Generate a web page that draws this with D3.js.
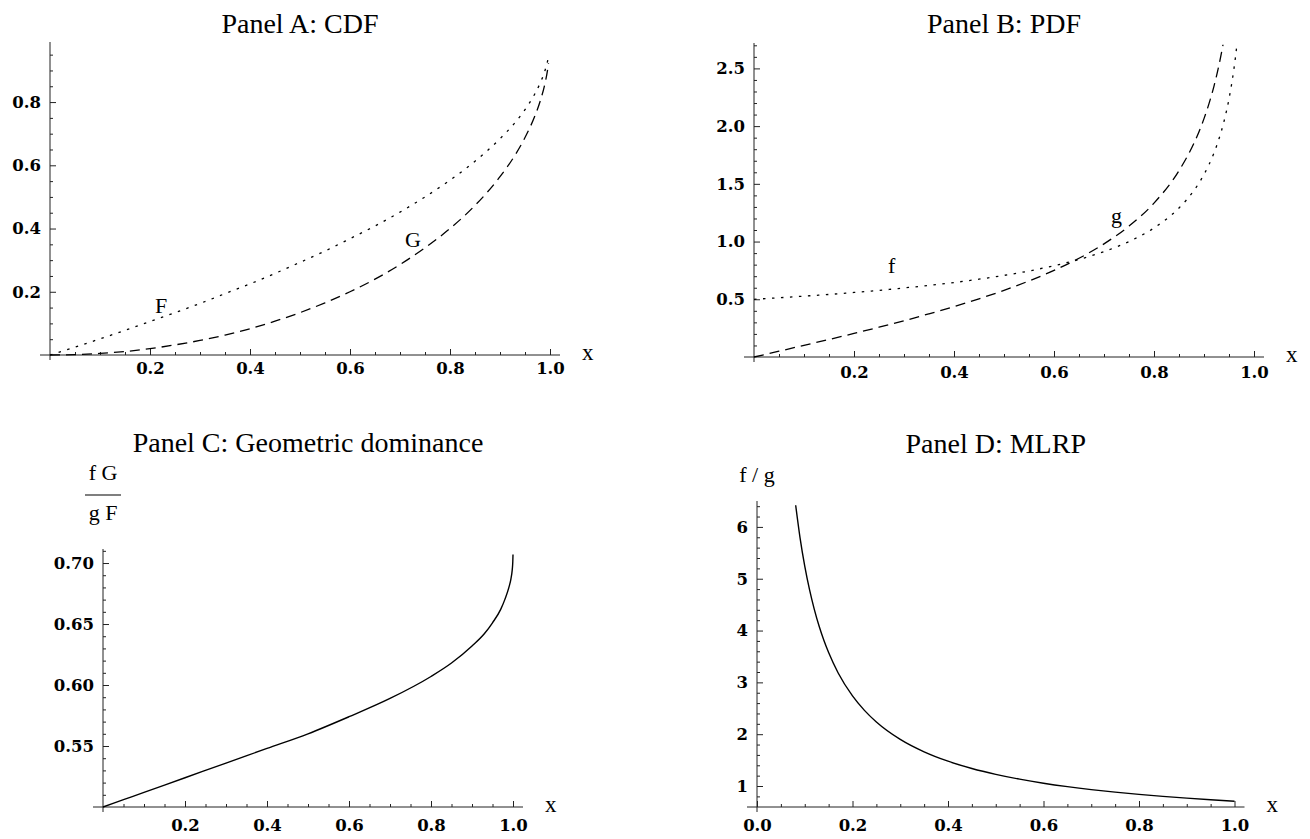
<!DOCTYPE html>
<html>
<head>
<meta charset="utf-8">
<script src="https://cdn.jsdelivr.net/npm/d3@7"></script>
<style>
  body { margin: 0; background: #fff; }
  .ttl, .lbl { font-family: "Liberation Serif", serif; fill: #000; }
</style>
</head>
<body>
<div id="chart"></div>
<script>
// values
var xCdf  = [0, 0.05, 0.1, 0.15, 0.2, 0.25, 0.3, 0.35, 0.4, 0.45, 0.5, 0.55, 0.6, 0.65, 0.7, 0.75, 0.8, 0.85, 0.9, 0.93, 0.95, 0.97, 0.98, 0.99, 0.995, 0.997];
var cdfF  = [0, 0.025, 0.051, 0.078, 0.106, 0.134, 0.163, 0.194, 0.225, 0.258, 0.293, 0.329, 0.368, 0.408, 0.452, 0.5, 0.553, 0.613, 0.684, 0.735, 0.776, 0.827, 0.859, 0.9, 0.929, 0.945];
var cdfG  = [0, 0.001, 0.005, 0.011, 0.020, 0.032, 0.046, 0.063, 0.083, 0.107, 0.134, 0.165, 0.2, 0.240, 0.286, 0.339, 0.4, 0.473, 0.564, 0.632, 0.688, 0.757, 0.801, 0.859, 0.9, 0.923];

var xPdfF = [0, 0.05, 0.1, 0.15, 0.2, 0.25, 0.3, 0.35, 0.4, 0.45, 0.5, 0.55, 0.6, 0.65, 0.7, 0.75, 0.8, 0.85, 0.88, 0.9, 0.92, 0.93, 0.94, 0.95, 0.96, 0.963, 0.966];
var pdfF  = [0.5, 0.513, 0.527, 0.542, 0.559, 0.577, 0.598, 0.620, 0.645, 0.674, 0.707, 0.745, 0.791, 0.845, 0.913, 1.0, 1.118, 1.291, 1.443, 1.581, 1.768, 1.890, 2.041, 2.236, 2.5, 2.599, 2.712];
var xPdfG = [0, 0.05, 0.1, 0.15, 0.2, 0.25, 0.3, 0.35, 0.4, 0.45, 0.5, 0.55, 0.6, 0.65, 0.7, 0.75, 0.8, 0.85, 0.88, 0.89, 0.9, 0.91, 0.92, 0.93, 0.935, 0.938];
var pdfG  = [0, 0.050, 0.101, 0.152, 0.204, 0.258, 0.314, 0.374, 0.436, 0.504, 0.577, 0.659, 0.75, 0.855, 0.980, 1.134, 1.333, 1.614, 1.853, 1.952, 2.065, 2.195, 2.347, 2.530, 2.636, 2.706];

var xGeo  = [0, 0.05, 0.1, 0.2, 0.3, 0.4, 0.5, 0.6, 0.7, 0.8, 0.85, 0.9, 0.93, 0.95, 0.97, 0.98, 0.99, 0.995, 0.998, 0.999, 0.9995, 1];
var geo   = [0.5, 0.506, 0.512, 0.524, 0.536, 0.548, 0.560, 0.574, 0.589, 0.607, 0.618, 0.632, 0.642, 0.651, 0.662, 0.670, 0.680, 0.687, 0.694, 0.698, 0.701, 0.707];

var xMlrp = [0.081, 0.09, 0.1, 0.11, 0.12, 0.13, 0.14, 0.15, 0.17, 0.2, 0.225, 0.25, 0.3, 0.35, 0.4, 0.45, 0.5, 0.55, 0.6, 0.65, 0.7, 0.75, 0.8, 0.85, 0.9, 0.95, 1];
var mlrp  = [6.418, 5.800, 5.244, 4.789, 4.410, 4.088, 3.813, 3.575, 3.181, 2.739, 2.460, 2.236, 1.900, 1.660, 1.479, 1.338, 1.225, 1.132, 1.054, 0.988, 0.931, 0.882, 0.839, 0.800, 0.766, 0.735, 0.707];

// tick labels
var xTicks   = [0.2, 0.4, 0.6, 0.8, 1.0];
var xTicksD  = [0, 0.2, 0.4, 0.6, 0.8, 1.0];
var yTicksA  = [0.2, 0.4, 0.6, 0.8];
var yTicksB  = [0.5, 1.0, 1.5, 2.0, 2.5];
var yTicksC  = [0.55, 0.60, 0.65, 0.70];
var yTicksD  = [1, 2, 3, 4, 5, 6];

var titles = ["Panel A: CDF", "Panel B: PDF", "Panel C: Geometric dominance", "Panel D: MLRP"];

var svg = d3.select("#chart").append("svg")
    .attr("width", 1310)
    .attr("height", 839);

function minors(a, b, step, skip) {
    return d3.range(Math.round((b - a) / step) + 1)
        .map(function(i) { return +(a + i * step).toFixed(4); })
        .filter(function(v) { return skip.indexOf(v) < 0; });
}

var line = d3.line().curve(d3.curveMonotoneX);

function tidy(a) {
    a.select(".domain").remove();
    a.attr("font-family", null).attr("font-size", null);
    a.selectAll("text")
        .style("font-family", "'DejaVu Serif', serif")
        .style("font-size", "16.5px")
        .style("font-weight", "bold")
        .attr("fill", "#000");
}

function panel(p) {
    var x = d3.scaleLinear().domain([0, 1]).range([p.left, p.right]);
    var y = d3.scaleLinear().domain(p.yDom).range([p.bottom, p.top]);
    var g = svg.append("g").attr("color", "#222");

    // x axis ticks (inward)
    g.append("g").attr("transform", "translate(0," + p.bottom + ")")
        .call(d3.axisBottom(x).tickValues(p.xMinor).tickSize(-3).tickFormat(""))
        .call(tidy);
    g.append("g").attr("transform", "translate(0," + p.bottom + ")")
        .call(d3.axisBottom(x).tickValues(p.xTicks).tickSize(-6).tickPadding(p.xPad).tickFormat(d3.format(".1f")))
        .call(tidy);

    // y axis ticks (inward)
    g.append("g").attr("transform", "translate(" + p.left + ",0)")
        .call(d3.axisLeft(y).tickValues(p.yMinor).tickSize(-3).tickFormat(""))
        .call(tidy);
    g.append("g").attr("transform", "translate(" + p.left + ",0)")
        .call(d3.axisLeft(y).tickValues(p.yTicks).tickSize(-6).tickPadding(9).tickFormat(d3.format(p.yFmt)))
        .call(tidy);

    // axis lines
    g.append("line").attr("x1", p.left - 10).attr("x2", p.right + 10)
        .attr("y1", p.bottom).attr("y2", p.bottom)
        .attr("stroke", "#222").attr("stroke-width", 1);
    g.append("line").attr("x1", p.left).attr("x2", p.left)
        .attr("y1", p.top).attr("y2", p.bottom + 5)
        .attr("stroke", "#222").attr("stroke-width", 1);

    svg.append("text").attr("class", "lbl")
        .attr("x", p.right + 32).attr("y", p.bottom + 5)
        .attr("font-size", 23)
        .text("x");

    p.series.forEach(function(s) {
        var pts = d3.zip(s.x, s.y).map(function(d) { return [x(d[0]), y(d[1])]; });
        svg.append("path")
            .attr("d", line(pts))
            .attr("fill", "none")
            .attr("stroke", "#000")
            .attr("stroke-width", s.dash ? 1.3 : 1.4)
            .attr("stroke-dasharray", s.dash || null);
    });

    (p.labels || []).forEach(function(l) {
        svg.append("text").attr("class", "lbl")
            .attr("x", x(l.x)).attr("y", y(l.y))
            .attr("font-size", 22)
            .text(l.t);
    });

    svg.append("text").attr("class", "ttl")
        .attr("x", (p.left + p.right) / 2).attr("y", p.titleY)
        .attr("text-anchor", "middle")
        .attr("font-size", 28)
        .text(p.title);
    return { x: x, y: y };
}

var dotted = "2.5,6.5", dashed = "10,6";

panel({
    title: titles[0], titleY: 33,
    left: 50, right: 550, top: 42, bottom: 355, yDom: [0, 0.99],
    xTicks: xTicks, xMinor: minors(0.05, 0.95, 0.05, xTicks), xPad: 7,
    yTicks: yTicksA, yMinor: minors(0.05, 0.95, 0.05, yTicksA), yFmt: ".1f",
    series: [{ x: xCdf, y: cdfF, dash: dotted }, { x: xCdf, y: cdfG, dash: dashed }],
    labels: [{ t: "F", x: 0.21, y: 0.133 }, { t: "G", x: 0.71, y: 0.341 }]
});

panel({
    title: titles[1], titleY: 33,
    left: 754, right: 1254, top: 43, bottom: 357, yDom: [0, 2.72],
    xTicks: xTicks, xMinor: minors(0.05, 0.95, 0.05, xTicks), xPad: 9,
    yTicks: yTicksB, yMinor: minors(0.1, 2.7, 0.1, yTicksB), yFmt: ".1f",
    series: [{ x: xPdfF, y: pdfF, dash: dotted }, { x: xPdfG, y: pdfG, dash: dashed }],
    labels: [{ t: "f", x: 0.268, y: 0.73 }, { t: "g", x: 0.714, y: 1.16 }]
});

var pc = panel({
    title: titles[2], titleY: 452,
    left: 103, right: 513, top: 549, bottom: 807, yDom: [0.5, 0.7115],
    xTicks: xTicks, xMinor: minors(0.05, 0.95, 0.05, xTicks), xPad: 12,
    yTicks: yTicksC, yMinor: minors(0.51, 0.71, 0.01, yTicksC), yFmt: ".2f",
    series: [{ x: xGeo, y: geo }]
});

var pd = panel({
    title: titles[3], titleY: 453,
    left: 757, right: 1234.5, top: 501, bottom: 807, yDom: [0.595, 6.5],
    xTicks: xTicksD, xMinor: minors(0.05, 0.95, 0.05, xTicksD), xPad: 12,
    yTicks: yTicksD, yMinor: minors(0.8, 6.4, 0.2, yTicksD), yFmt: "d",
    series: [{ x: xMlrp, y: mlrp }]
});

// y-axis labels of the lower panels
var cx = pc.x(0);
svg.append("text").attr("class", "lbl").attr("x", cx).attr("y", 480)
    .attr("text-anchor", "middle").attr("font-size", 22).text("f G");
svg.append("line").attr("x1", cx - 18).attr("x2", cx + 18).attr("y1", 495).attr("y2", 495)
    .attr("stroke", "#000").attr("stroke-width", 1.2);
svg.append("text").attr("class", "lbl").attr("x", cx).attr("y", 520)
    .attr("text-anchor", "middle").attr("font-size", 22).text("g F");

svg.append("text").attr("class", "lbl").attr("x", pd.x(0)).attr("y", 482)
    .attr("text-anchor", "middle").attr("font-size", 22).text("f / g");
</script>
</body>
</html>
